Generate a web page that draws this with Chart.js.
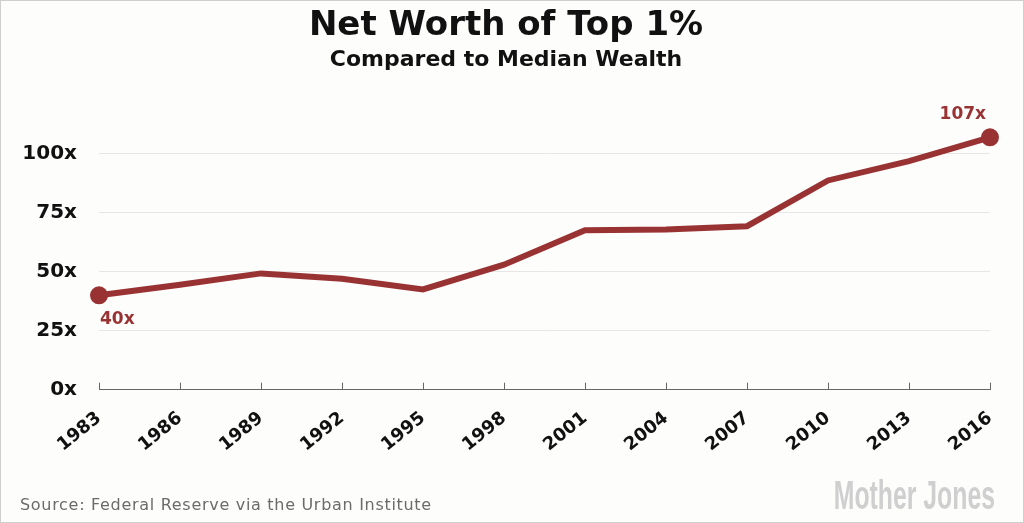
<!DOCTYPE html>
<html>
<head>
<meta charset="utf-8">
<script src="https://cdn.jsdelivr.net/npm/chart.js@4"></script>
<style>
  html, body { margin: 0; padding: 0; background: #fdfdfc; }
  canvas { display: block; }
</style>
</head>
<body>
<canvas id="chart" width="1024" height="523"></canvas>
<script>
const years = ['1983', '1986', '1989', '1992', '1995', '1998', '2001', '2004', '2007', '2010', '2013', '2016'];
const netWorthRatio = [40, 44.5, 49.3, 47, 42.5, 53, 67.6, 67.9, 69.3, 88.7, 96.9, 107];
const endLabels = ['40x', '107x'];
const lineColor = '#993333';
const fontFamily = '"DejaVu Sans", sans-serif';

// background and frame
const frame = {
    id: 'frame',
    beforeDraw(chart) {
        const ctx = chart.ctx;
        ctx.save();
        ctx.fillStyle = '#fdfdfc';
        ctx.fillRect(0, 0, chart.width, chart.height);
        ctx.strokeStyle = '#cfcfcf';
        ctx.lineWidth = 1;
        ctx.strokeRect(0.5, 0.5, chart.width - 1, chart.height - 1);
        ctx.restore();
    }
};

// labels at the first and last point, upward x ticks, and the footer
const extras = {
    id: 'extras',
    afterDatasetsDraw(chart) {
        const ctx = chart.ctx;
        const meta = chart.getDatasetMeta(0);
        const first = meta.data[0];
        const last = meta.data[meta.data.length - 1];
        ctx.save();
        ctx.fillStyle = lineColor;
        ctx.font = 'bold 17px ' + fontFamily;
        ctx.textBaseline = 'middle';
        ctx.textAlign = 'left';
        ctx.fillText(endLabels[0], first.x + 1, first.y + 24);
        ctx.textAlign = 'right';
        ctx.fillText(endLabels[1], last.x - 4, last.y - 23);

        // tick marks standing on the x axis
        const xs = chart.scales.x;
        const yBase = chart.chartArea.bottom;
        ctx.strokeStyle = '#666';
        ctx.lineWidth = 1;
        xs.ticks.forEach((t, i) => {
            const px = Math.round(xs.getPixelForTick(i)) + 0.5;
            ctx.beginPath();
            ctx.moveTo(px, yBase);
            ctx.lineTo(px, yBase - 7);
            ctx.stroke();
        });

        ctx.textAlign = 'left';
        ctx.textBaseline = 'alphabetic';
        ctx.fillStyle = '#6b6b6b';
        ctx.font = '16px "DejaVu Sans", sans-serif';
        ctx.letterSpacing = '0.7px';
        ctx.fillText('Source: Federal Reserve via the Urban Institute', 20, 510);
        ctx.letterSpacing = '0px';

        // condensed grey logo text
        ctx.fillStyle = '#cfcfcf';
        ctx.font = 'bold 40px "Liberation Sans", sans-serif';
        ctx.translate(995, 509);
        ctx.scale(0.62, 1);
        ctx.textAlign = 'right';
        ctx.fillText('Mother Jones', 0, 0);
        ctx.restore();
    }
};

new Chart(document.getElementById('chart'), {
    type: 'line',
    data: {
        labels: years,
        datasets: [{
            data: netWorthRatio,
            borderColor: lineColor,
            backgroundColor: lineColor,
            borderWidth: 6,
            tension: 0,
            pointRadius: ctx => (ctx.dataIndex === 0 || ctx.dataIndex === years.length - 1) ? 6 : 0,
            pointHoverRadius: 0
        }]
    },
    options: {
        responsive: false,
        animation: false,
        devicePixelRatio: 1,
        clip: false,
        layout: { padding: { left: 22, right: 34, top: 6, bottom: 49 } },
        plugins: {
            legend: { display: false },
            tooltip: { enabled: false },
            title: {
                display: true,
                text: 'Net Worth of Top 1%',
                color: '#111',
                font: { family: fontFamily, size: 34, weight: 'bold' },
                padding: { top: 0, bottom: 0 }
            },
            subtitle: {
                display: true,
                text: 'Compared to Median Wealth',
                color: '#111',
                font: { family: fontFamily, size: 22, weight: 'bold' },
                padding: { top: 0, bottom: 57 }
            }
        },
        scales: {
            x: {
                grid: { display: false, drawTicks: false },
                border: { display: true, color: '#666', width: 1 },
                ticks: {
                    color: '#111',
                    minRotation: 39,
                    maxRotation: 39,
                    padding: 18,
                    font: { family: fontFamily, size: 18, weight: 'bold' }
                }
            },
            y: {
                min: 0,
                max: 110,
                afterBuildTicks: scale => {
                    scale.ticks = scale.ticks.filter(t => t.value % 25 === 0);
                },
                afterFit: scale => { scale.width = 77; },
                grid: {
                    drawTicks: false,
                    color: c => c.tick.value === 0 ? 'rgba(0,0,0,0)' : '#e6e6e6'
                },
                border: { display: false },
                ticks: {
                    stepSize: 25,
                    padding: 22,
                    color: '#111',
                    font: { family: fontFamily, size: 20, weight: 'bold' },
                    callback: v => v + 'x'
                }
            }
        }
    },
    plugins: [frame, extras]
});
</script>
</body>
</html>
